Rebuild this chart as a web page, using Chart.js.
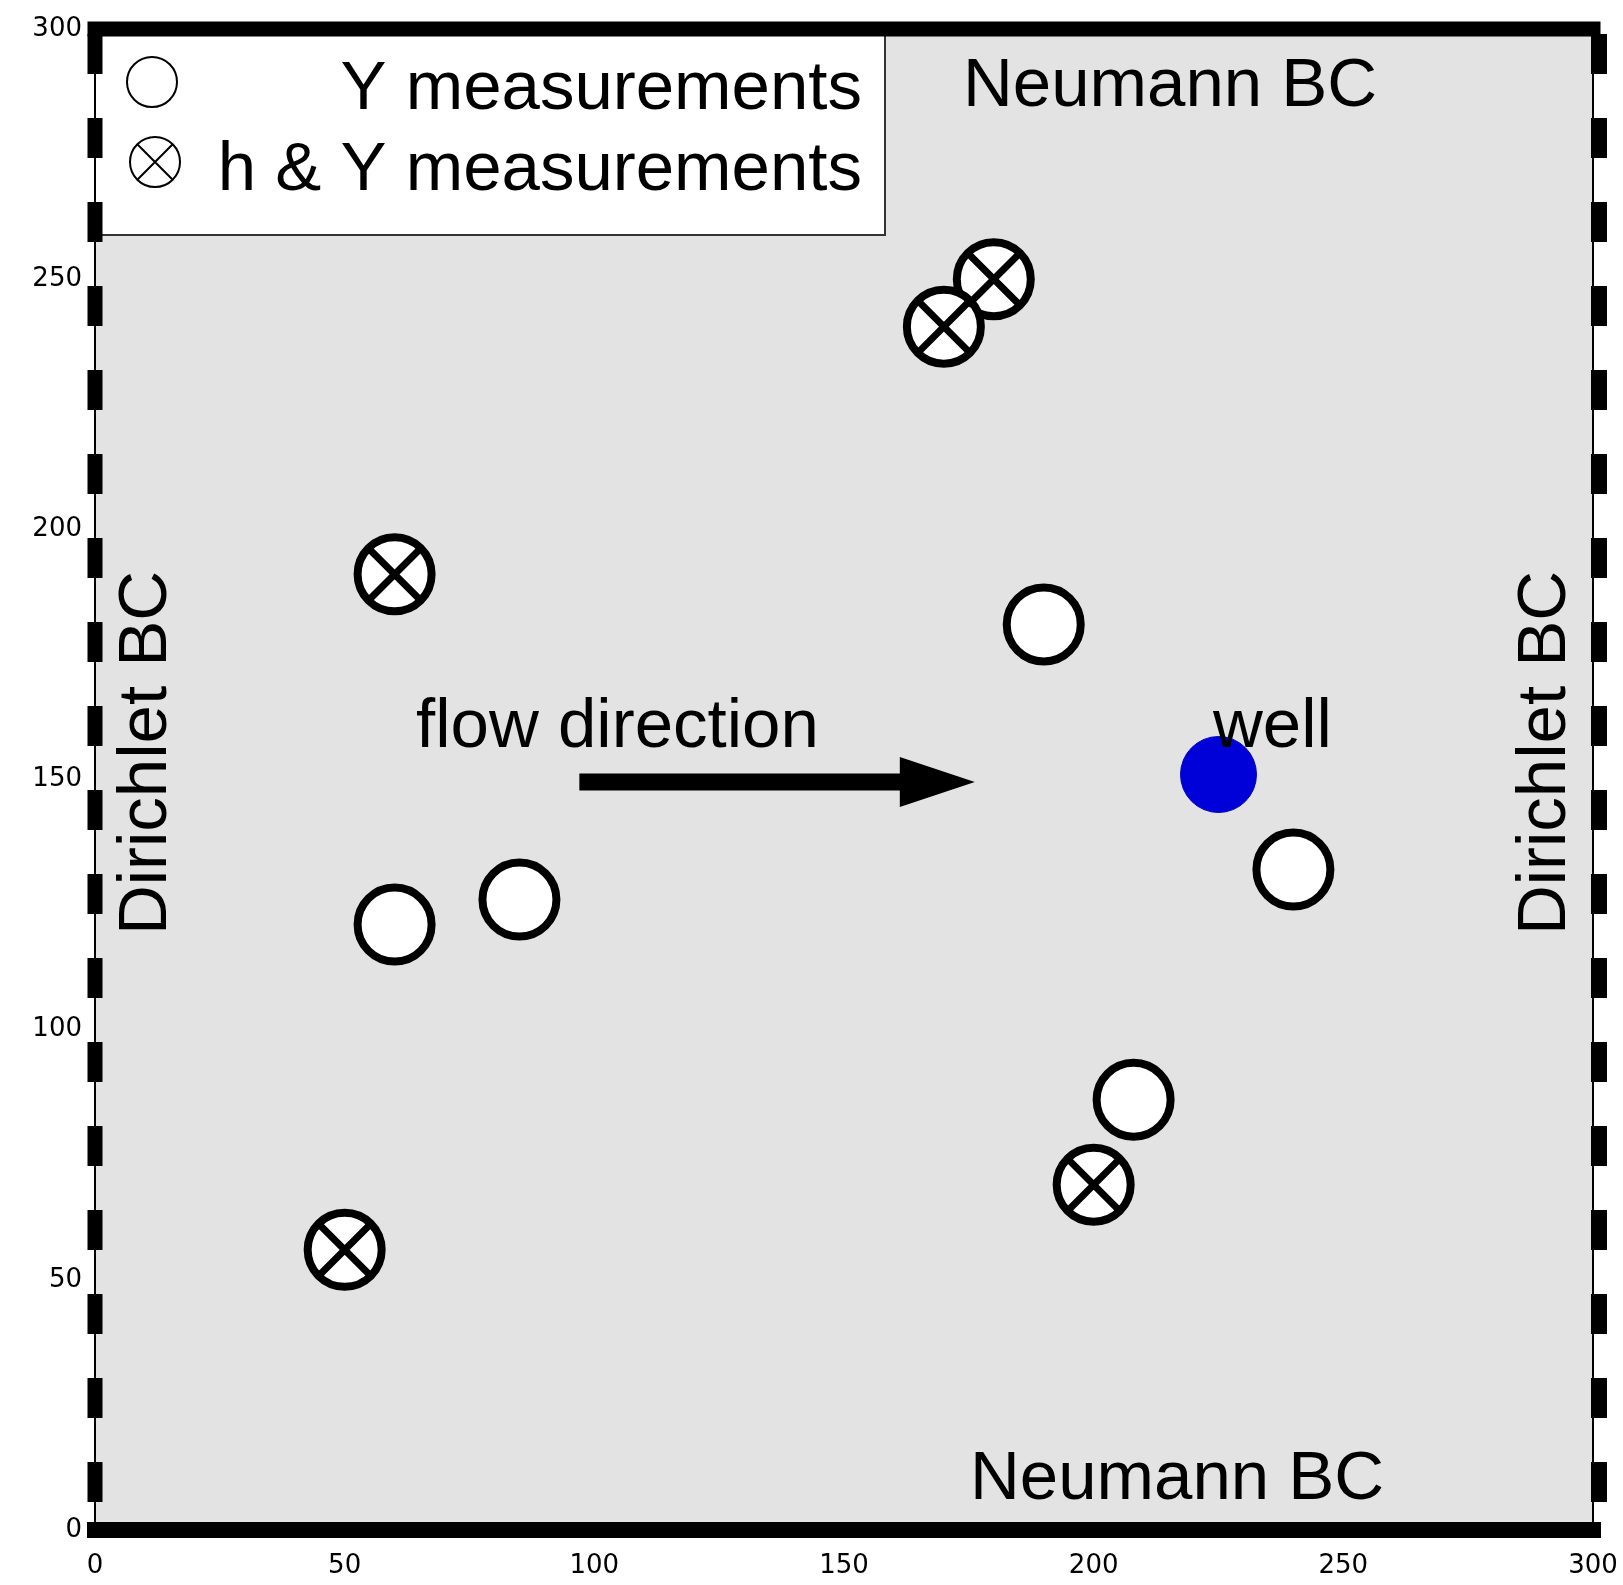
<!DOCTYPE html>
<html>
<head>
<meta charset="utf-8">
<title>Measurement layout</title>
<script src="https://cdn.jsdelivr.net/npm/chart.js@4.4.1/dist/chart.umd.min.js"></script>
<style>
  html, body { margin: 0; padding: 0; background: #fff; }
  canvas { display: block; }
</style>
</head>
<body>
<canvas id="siteChart" width="1623" height="1585"></canvas>
<script>
  // ---- data ----
  const axisTicks = [0, 50, 100, 150, 200, 250, 300];

  // Y measurements (log-conductivity only)
  const yOnlyX = [190, 60, 85, 240, 208];
  const yOnlyY = [181, 121, 126, 132, 86];

  // h & Y measurements (head + log-conductivity)
  const hyX = [180, 170, 60, 50, 200];
  const hyY = [250, 240.5, 191, 56, 69];

  // pumping well
  const wellX = [225];
  const wellY = [151];

  // domain boundaries
  const domainMin = 0;
  const domainMax = 300;
  const dirichletRightX = 301.2;

  // flow arrow (from, to, at height)
  const arrowFromX = 97;
  const arrowToX = 176.2;
  const arrowY = 149.5;

  // text notes placed in data units
  const notes = [
    { text: "Neumann BC", x: 215.3, y: 284.6, align: "center", rotate: 0 },
    { text: "Neumann BC", x: 216.7, y: 6.2, align: "center", rotate: 0 },
    { text: "Dirichlet BC", x: 14.2, y: 155.3, align: "center", rotate: -90 },
    { text: "Dirichlet BC", x: 294.4, y: 155.3, align: "center", rotate: -90 },
    { text: "flow direction", x: 64.3, y: 156.5, align: "left", rotate: 0 },
    { text: "well", x: 223.9, y: 156.5, align: "left", rotate: 0 },
  ];

  const BIG_FONT = '69px "Liberation Sans", Arial, sans-serif';

  function toPoints(xs, ys) {
    return xs.map((x, i) => ({ x: x, y: ys[i] }));
  }

  // gray domain + legend box, drawn under the datasets
  const domainPlugin = {
    id: "domainBackground",
    beforeDatasetsDraw(chart) {
      const { ctx, chartArea } = chart;
      ctx.save();
      ctx.fillStyle = "#e3e3e3";
      ctx.fillRect(chartArea.left, chartArea.top, chartArea.right - chartArea.left, chartArea.bottom - chartArea.top);

      // legend box
      const bx = chartArea.left, by = chartArea.top + 6, bw = 790, bh = 200;
      ctx.fillStyle = "#ffffff";
      ctx.fillRect(bx, by, bw, bh);
      ctx.strokeStyle = "#333";
      ctx.lineWidth = 2;
      ctx.strokeRect(bx, by, bw, bh);

      const rows = [
        { label: chart.data.datasets[0].label, cross: false, mx: bx + 57, my: by + 47, base: by + 74 },
        { label: chart.data.datasets[1].label, cross: true, mx: bx + 60, my: by + 127, base: by + 155 },
      ];
      rows.forEach((r) => {
        ctx.beginPath();
        ctx.arc(r.mx, r.my, 25, 0, Math.PI * 2);
        ctx.fillStyle = "#fff";
        ctx.fill();
        ctx.lineWidth = 2;
        ctx.strokeStyle = "#000";
        ctx.stroke();
        if (r.cross) {
          const d = 25 * Math.SQRT1_2;
          ctx.beginPath();
          ctx.moveTo(r.mx - d, r.my - d);
          ctx.lineTo(r.mx + d, r.my + d);
          ctx.moveTo(r.mx + d, r.my - d);
          ctx.lineTo(r.mx - d, r.my + d);
          ctx.stroke();
        }
        ctx.fillStyle = "#000";
        ctx.font = BIG_FONT;
        ctx.textAlign = "right";
        ctx.textBaseline = "alphabetic";
        ctx.fillText(r.label, bx + 767, r.base);
      });
      ctx.restore();
    },
  };

  // boundary names, flow arrow and well label on top
  const notesPlugin = {
    id: "notes",
    afterDatasetsDraw(chart) {
      const { ctx, scales } = chart;
      const xs = scales.x, ys = scales.y;
      ctx.save();

      // arrow
      const x0 = xs.getPixelForValue(arrowFromX);
      const x1 = xs.getPixelForValue(arrowToX);
      const yy = ys.getPixelForValue(arrowY);
      const headLen = 75, headHalf = 25, shaft = 17;
      ctx.fillStyle = "#000";
      ctx.fillRect(x0, yy - shaft / 2, x1 - headLen - x0 + 1, shaft);
      ctx.beginPath();
      ctx.moveTo(x1 - headLen, yy - headHalf);
      ctx.lineTo(x1, yy);
      ctx.lineTo(x1 - headLen, yy + headHalf);
      ctx.closePath();
      ctx.fill();

      ctx.font = BIG_FONT;
      ctx.textBaseline = "alphabetic";
      notes.forEach((n) => {
        const px = xs.getPixelForValue(n.x);
        const py = ys.getPixelForValue(n.y);
        ctx.save();
        ctx.translate(px, py);
        if (n.rotate) {
          ctx.rotate((n.rotate * Math.PI) / 180);
        }
        ctx.textAlign = n.align;
        ctx.fillText(n.text, 0, 0);
        ctx.restore();
      });
      ctx.restore();
    },
  };

  const tickFont = { family: '"DejaVu Sans", sans-serif', size: 26 };

  new Chart(document.getElementById("siteChart").getContext("2d"), {
    type: "scatter",
    data: {
      datasets: [
        {
          label: "Y measurements",
          data: toPoints(yOnlyX, yOnlyY),
          pointStyle: "circle",
          pointRadius: 37,
          pointBorderWidth: 8,
          pointBackgroundColor: "#ffffff",
          pointBorderColor: "#000000",
          order: 2,
        },
        {
          label: "h & Y measurements",
          data: toPoints(hyX, hyY),
          pointStyle: "circle",
          pointRadius: 37,
          pointBorderWidth: 8,
          pointBackgroundColor: "#ffffff",
          pointBorderColor: "#000000",
          order: 2,
        },
        {
          label: "h & Y cross",
          data: toPoints(hyX, hyY),
          pointStyle: "crossRot",
          pointRadius: 37,
          pointBorderWidth: 7,
          pointBorderColor: "#000000",
          order: 1,
        },
        {
          label: "well",
          data: toPoints(wellX, wellY),
          pointStyle: "circle",
          pointRadius: 38,
          pointBorderWidth: 1,
          pointBackgroundColor: "#0000d8",
          pointBorderColor: "#0000c0",
          order: 2,
        },
        // Neumann boundaries (top and bottom)
        {
          label: "Neumann bottom",
          data: [{ x: domainMin, y: domainMin }, { x: domainMax, y: domainMin }],
          showLine: true,
          pointRadius: 0,
          borderColor: "#000",
          borderWidth: 16,
          borderCapStyle: "square",
          clip: false,
          order: 5,
        },
        {
          label: "Neumann top",
          data: [{ x: domainMin, y: domainMax }, { x: domainMax, y: domainMax }],
          showLine: true,
          pointRadius: 0,
          borderColor: "#000",
          borderWidth: 15,
          borderCapStyle: "square",
          clip: false,
          order: 5,
        },
        // Dirichlet boundaries (left and right), thin edge plus dashes
        {
          label: "left edge",
          data: [{ x: domainMin, y: domainMax }, { x: domainMin, y: domainMin }],
          showLine: true,
          pointRadius: 0,
          borderColor: "#000",
          borderWidth: 2,
          clip: false,
          order: 6,
        },
        {
          label: "right edge",
          data: [{ x: domainMax, y: domainMax }, { x: domainMax, y: domainMin }],
          showLine: true,
          pointRadius: 0,
          borderColor: "#000",
          borderWidth: 2,
          clip: false,
          order: 6,
        },
        {
          label: "Dirichlet left",
          data: [{ x: domainMin, y: domainMax }, { x: domainMin, y: domainMin }],
          showLine: true,
          pointRadius: 0,
          borderColor: "#000",
          borderWidth: 15,
          borderDash: [40, 44],
          borderDashOffset: 79,
          clip: false,
          order: 6,
        },
        {
          label: "Dirichlet right",
          data: [{ x: dirichletRightX, y: domainMax }, { x: dirichletRightX, y: domainMin }],
          showLine: true,
          pointRadius: 0,
          borderColor: "#000",
          borderWidth: 16,
          borderDash: [40, 44],
          borderDashOffset: 79,
          clip: false,
          order: 6,
        },
      ],
    },
    options: {
      responsive: false,
      animation: false,
      events: [],
      // big markers would otherwise push the plot area inward
      layout: { autoPadding: false, padding: { top: 29, right: 30, left: 0, bottom: 0 } },
      plugins: {
        legend: { display: false },
        tooltip: { enabled: false },
      },
      scales: {
        x: {
          type: "linear",
          min: domainMin,
          max: domainMax,
          afterBuildTicks(scale) {
            scale.ticks = axisTicks.map((v) => ({ value: v }));
          },
          afterFit(scale) {
            scale.height = 55;
            // edge labels may hang over; the layout padding covers them
            scale.paddingLeft = 0;
            scale.paddingRight = 0;
          },
          ticks: { font: tickFont, color: "#000", padding: 21, maxRotation: 0 },
          grid: { display: false, drawTicks: false },
          border: { display: false },
        },
        y: {
          type: "linear",
          min: domainMin,
          max: domainMax,
          afterBuildTicks(scale) {
            scale.ticks = axisTicks.map((v) => ({ value: v }));
          },
          afterFit(scale) {
            scale.width = 95;
            scale.paddingTop = 0;
            scale.paddingBottom = 0;
          },
          ticks: { font: tickFont, color: "#000", padding: 13 },
          grid: { display: false, drawTicks: false },
          border: { display: false },
        },
      },
    },
    plugins: [domainPlugin, notesPlugin],
  });
</script>
</body>
</html>
